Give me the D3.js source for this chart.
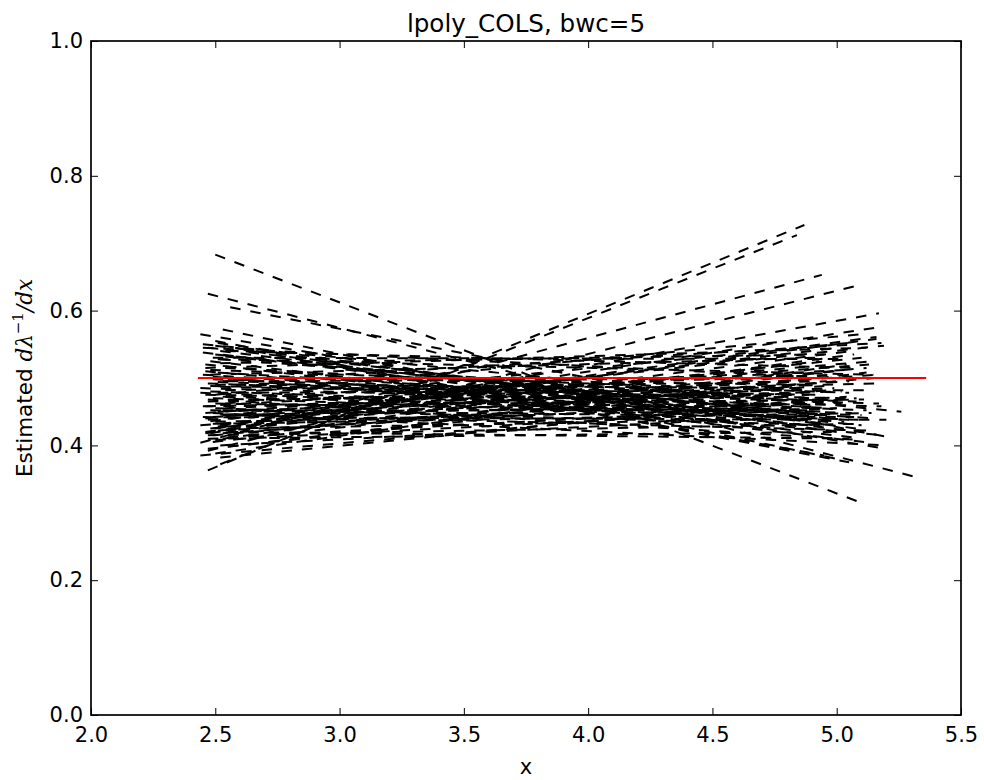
<!DOCTYPE html>
<html>
<head>
<meta charset="utf-8">
<script src="https://cdn.jsdelivr.net/npm/d3@7"></script>
<style>
  body { margin: 0; background: #fff; }
  text { font-family: "DejaVu Sans", sans-serif; }
</style>
</head>
<body>
<div id="chart"></div>
<script>
// each fitted curve: start point and end point (x, estimate)
var lineStartX = [2.50, 2.47, 2.44, 2.56, 2.53, 2.50, 2.58, 2.45,
  2.47, 2.52, 2.44, 2.47, 2.48, 2.50, 2.52, 2.46, 2.53,
  2.50, 2.52, 2.46, 2.54, 2.48, 2.51, 2.45, 2.53, 2.49, 2.55, 2.47, 2.50, 2.52, 2.44, 2.54, 2.48,
  2.51, 2.46, 2.53, 2.49, 2.55, 2.47, 2.50, 2.52, 2.45, 2.54, 2.48, 2.51, 2.46, 2.53, 2.49, 2.55,
  2.47, 2.50, 2.52, 2.44, 2.54, 2.48, 2.51, 2.46, 2.53, 2.49, 2.55, 2.47, 2.50, 2.52, 2.45, 2.54,
  2.48, 2.51, 2.53, 2.46, 2.49, 2.55, 2.47, 2.50, 2.52, 2.44, 2.54, 2.48, 2.51, 2.46, 2.53, 2.49,
  2.55, 2.47, 2.50, 2.52, 2.45, 2.54, 2.48, 2.51, 2.46, 2.53, 2.49, 2.55, 2.47, 2.50,
  2.49, 2.52, 2.46, 2.54, 2.48, 2.51, 2.45, 2.53, 2.50, 2.47, 2.55, 2.49, 2.52, 2.44];
var lineStartY = [0.683, 0.625, 0.565, 0.605, 0.572, 0.555, 0.545, 0.550,
  0.363, 0.372, 0.404, 0.392, 0.418, 0.425, 0.430, 0.440, 0.445,
  0.535, 0.528, 0.520, 0.515, 0.512, 0.508, 0.505, 0.500, 0.498, 0.495, 0.492, 0.490, 0.487, 0.485, 0.482, 0.480,
  0.478, 0.475, 0.472, 0.470, 0.468, 0.465, 0.462, 0.460, 0.458, 0.455, 0.452, 0.450, 0.448, 0.445, 0.442, 0.440,
  0.438, 0.435, 0.432, 0.430, 0.428, 0.425, 0.422, 0.420, 0.418, 0.415, 0.412, 0.545, 0.548, 0.540, 0.538, 0.532,
  0.525, 0.552, 0.518, 0.510, 0.502, 0.497, 0.468, 0.455, 0.446, 0.478, 0.462, 0.436, 0.428, 0.418, 0.410, 0.405,
  0.398, 0.395, 0.388, 0.382, 0.442, 0.472, 0.488, 0.494, 0.458, 0.452, 0.432, 0.425, 0.415, 0.408,
  0.530, 0.522, 0.515, 0.540, 0.505, 0.528, 0.545, 0.495, 0.475, 0.410, 0.420, 0.448, 0.400, 0.385];
var lineEndX = [5.09, 5.33, 5.18, 5.21, 5.00, 5.05, 4.95, 5.26,
  4.87, 4.84, 4.94, 5.07, 5.17, 5.18, 5.16, 5.19, 5.15,
  4.95, 5.02, 5.10, 4.90, 5.05, 4.98, 5.15, 4.92, 5.08, 5.00, 5.12, 4.88, 5.04, 5.18, 4.96, 5.06,
  5.14, 4.93, 5.01, 5.09, 4.89, 5.16, 4.97, 5.03, 5.11, 4.91, 5.07, 4.99, 5.13, 4.94, 5.05, 4.87,
  5.17, 5.00, 5.10, 4.95, 5.04, 5.12, 4.90, 5.06, 4.98, 5.15, 4.92, 5.02, 5.08, 4.96, 5.14, 4.89,
  5.06, 5.00, 5.11, 4.94, 5.19, 5.03, 5.09, 4.97, 5.13, 4.91, 5.05, 5.01, 5.16, 4.93, 5.07, 4.99,
  5.12, 4.88, 5.04, 4.96, 5.20, 5.10, 4.95, 5.17, 5.02, 4.90, 5.14, 4.98, 5.08, 5.00,
  5.03, 4.95, 5.12, 5.06, 4.92, 5.15, 5.00, 5.18, 5.10, 4.98, 5.05, 5.20, 4.93, 5.08];
var lineEndY = [0.316, 0.352, 0.396, 0.412, 0.380, 0.375, 0.385, 0.450,
  0.727, 0.712, 0.653, 0.636, 0.596, 0.576, 0.561, 0.548, 0.525,
  0.445, 0.462, 0.430, 0.470, 0.478, 0.455, 0.440, 0.490, 0.465, 0.500, 0.452, 0.485, 0.470, 0.458, 0.495, 0.448,
  0.482, 0.460, 0.505, 0.438, 0.475, 0.492, 0.450, 0.512, 0.468, 0.498, 0.442, 0.485, 0.520, 0.462, 0.495, 0.478,
  0.505, 0.455, 0.530, 0.488, 0.472, 0.515, 0.465, 0.540, 0.482, 0.500, 0.458, 0.438, 0.425, 0.432, 0.418, 0.448,
  0.412, 0.420, 0.405, 0.428, 0.415, 0.435, 0.408, 0.430, 0.422, 0.442, 0.552, 0.545, 0.558, 0.525, 0.535, 0.510,
  0.508, 0.490, 0.520, 0.470, 0.438, 0.445, 0.475, 0.462, 0.480, 0.452, 0.448, 0.440, 0.432, 0.455,
  0.528, 0.535, 0.545, 0.515, 0.530, 0.505, 0.500, 0.552, 0.565, 0.420, 0.410, 0.400, 0.445, 0.470];

// true value
var trueY = 0.5;
var trueX = [2.43, 5.36];

var xTicks = [2.0, 2.5, 3.0, 3.5, 4.0, 4.5, 5.0, 5.5];
var yTicks = [0.0, 0.2, 0.4, 0.6, 0.8, 1.0];

var W = 984, H = 780;
var margin = {top: 41, right: 23, bottom: 65, left: 91},
    width = W - margin.left - margin.right,
    height = H - margin.top - margin.bottom;

var svg = d3.select("#chart").append("svg")
    .attr("width", W)
    .attr("height", H);

var x = d3.scaleLinear().domain([2.0, 5.5]).range([0, width]);
var y = d3.scaleLinear().domain([0, 1]).range([height, 0]);

var g = svg.append("g")
    .attr("transform", "translate(" + margin.left + "," + margin.top + ")");

svg.append("defs").append("clipPath").attr("id", "clip")
  .append("rect").attr("width", width).attr("height", height);

var lines = d3.range(lineStartX.length).map(function(i) {
  return [[lineStartX[i], lineStartY[i]], [lineEndX[i], lineEndY[i]]];
});

var path = d3.line()
    .x(function(d) { return x(d[0]); })
    .y(function(d) { return y(d[1]); });

var plot = g.append("g").attr("clip-path", "url(#clip)");

plot.selectAll(".est")
    .data(lines)
  .enter().append("path")
    .attr("class", "est")
    .attr("d", path)
    .attr("fill", "none")
    .attr("stroke", "#000")
    .attr("stroke-width", 2)
    .attr("stroke-dasharray", "10.5,10");

plot.append("path")
    .attr("d", path([[trueX[0], trueY], [trueX[1], trueY]]))
    .attr("fill", "none")
    .attr("stroke", "red")
    .attr("stroke-width", 2);

// axes: ticks inside, on all four sides
var tl = 7;
var xb = g.append("g").attr("transform", "translate(0," + height + ")")
    .call(d3.axisBottom(x).tickValues(xTicks).tickSizeInner(-tl).tickSizeOuter(0).tickPadding(12)
      .tickFormat(d3.format(".1f")));
var xt = g.append("g")
    .call(d3.axisTop(x).tickValues(xTicks).tickSizeInner(-tl).tickSizeOuter(0).tickFormat(""));
var yl = g.append("g")
    .call(d3.axisLeft(y).tickValues(yTicks).tickSizeInner(-tl).tickSizeOuter(0).tickPadding(8)
      .tickFormat(d3.format(".1f")));
var yr = g.append("g").attr("transform", "translate(" + width + ",0)")
    .call(d3.axisRight(y).tickValues(yTicks).tickSizeInner(-tl).tickSizeOuter(0).tickFormat(""));

[xb, xt, yl, yr].forEach(function(a) {
  a.select(".domain").remove();
  a.selectAll(".tick line").attr("stroke", "#000").attr("stroke-width", 1);
  a.selectAll("text").attr("font-size", 21).attr("fill", "#000")
    .attr("font-family", "DejaVu Sans, sans-serif");
});

g.append("rect")
    .attr("width", width)
    .attr("height", height)
    .attr("fill", "none")
    .attr("stroke", "#000")
    .attr("stroke-width", 1.7);

// title and labels
svg.append("text")
    .attr("x", margin.left + width / 2)
    .attr("y", 32)
    .attr("text-anchor", "middle")
    .attr("font-size", 24.6)
    .text("lpoly_COLS, bwc=5");

svg.append("text")
    .attr("x", margin.left + width / 2)
    .attr("y", 774)
    .attr("text-anchor", "middle")
    .attr("font-size", 21)
    .text("x");

var ylab = svg.append("text")
    .attr("transform", "translate(32," + (margin.top + height / 2) + ") rotate(-90)")
    .attr("text-anchor", "middle")
    .attr("font-size", 21.5);
ylab.append("tspan").text("Estimated ");
ylab.append("tspan").attr("font-family", "DejaVu Serif, serif").attr("font-style", "italic").text("d\u03BB");
ylab.append("tspan").attr("font-family", "DejaVu Serif, serif").attr("font-size", 15).attr("dy", -9).text("\u22121");
ylab.append("tspan").attr("font-family", "DejaVu Serif, serif").attr("font-style", "italic").attr("dy", 9).text("/dx");
</script>
</body>
</html>
